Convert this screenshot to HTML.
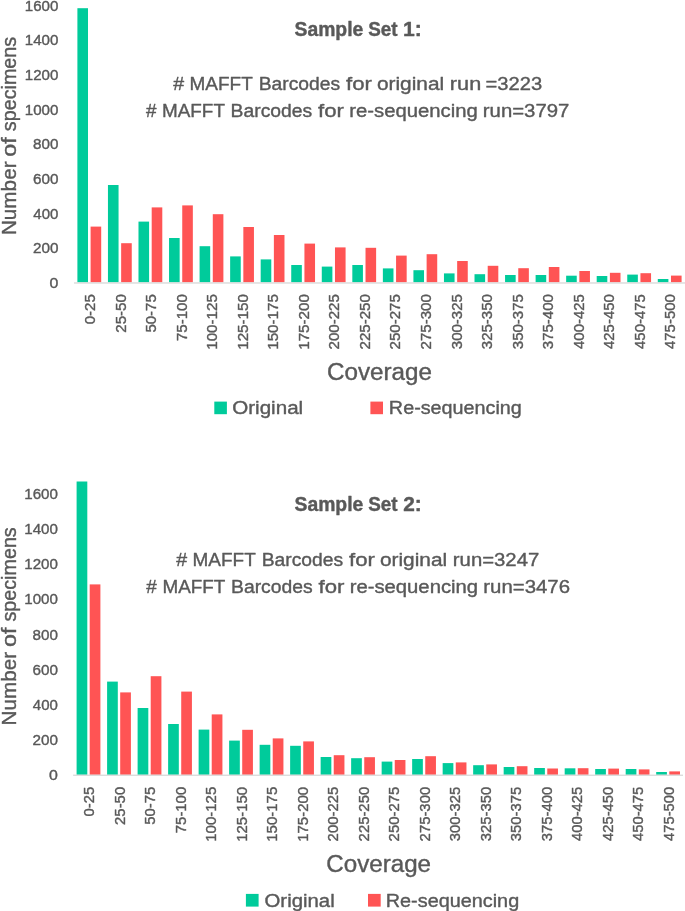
<!DOCTYPE html>
<html lang="en">
<head>
<meta charset="utf-8">
<title>Coverage histograms</title>
<style>
html,body{margin:0;padding:0;background:#fff;}
svg{display:block;}
text{font-family:'Liberation Sans', sans-serif;fill:#595959;font-kerning:none;stroke:#595959;stroke-width:0.4px;stroke-linejoin:round;}
</style>
</head>
<body>
<svg width="685" height="911" viewBox="0 0 685 911">
<rect x="0" y="0" width="685" height="911" fill="#ffffff"/>
<g id="chart1">
<g fill="#00CB9B">
<rect x="77.40" y="8.20" width="10.6" height="274.10"/>
<rect x="107.95" y="185.00" width="10.6" height="97.30"/>
<rect x="138.49" y="221.60" width="10.6" height="60.70"/>
<rect x="169.04" y="238.00" width="10.6" height="44.30"/>
<rect x="199.59" y="246.20" width="10.6" height="36.10"/>
<rect x="230.14" y="256.40" width="10.6" height="25.90"/>
<rect x="260.68" y="259.40" width="10.6" height="22.90"/>
<rect x="291.23" y="265.00" width="10.6" height="17.30"/>
<rect x="321.78" y="266.60" width="10.6" height="15.70"/>
<rect x="352.32" y="265.00" width="10.6" height="17.30"/>
<rect x="382.87" y="268.40" width="10.6" height="13.90"/>
<rect x="413.42" y="270.20" width="10.6" height="12.10"/>
<rect x="443.96" y="273.40" width="10.6" height="8.90"/>
<rect x="474.51" y="274.20" width="10.6" height="8.10"/>
<rect x="505.06" y="275.00" width="10.6" height="7.30"/>
<rect x="535.61" y="275.00" width="10.6" height="7.30"/>
<rect x="566.15" y="275.70" width="10.6" height="6.60"/>
<rect x="596.70" y="276.00" width="10.6" height="6.30"/>
<rect x="627.25" y="274.60" width="10.6" height="7.70"/>
<rect x="657.79" y="279.00" width="10.6" height="3.30"/>
</g>
<g fill="#FF5454">
<rect x="90.60" y="226.60" width="10.6" height="55.70"/>
<rect x="121.15" y="243.20" width="10.6" height="39.10"/>
<rect x="151.69" y="207.40" width="10.6" height="74.90"/>
<rect x="182.24" y="205.40" width="10.6" height="76.90"/>
<rect x="212.79" y="214.20" width="10.6" height="68.10"/>
<rect x="243.34" y="227.00" width="10.6" height="55.30"/>
<rect x="273.88" y="235.00" width="10.6" height="47.30"/>
<rect x="304.43" y="243.60" width="10.6" height="38.70"/>
<rect x="334.98" y="247.40" width="10.6" height="34.90"/>
<rect x="365.52" y="247.80" width="10.6" height="34.50"/>
<rect x="396.07" y="255.60" width="10.6" height="26.70"/>
<rect x="426.62" y="254.20" width="10.6" height="28.10"/>
<rect x="457.16" y="261.00" width="10.6" height="21.30"/>
<rect x="487.71" y="265.80" width="10.6" height="16.50"/>
<rect x="518.26" y="268.20" width="10.6" height="14.10"/>
<rect x="548.81" y="267.00" width="10.6" height="15.30"/>
<rect x="579.35" y="271.00" width="10.6" height="11.30"/>
<rect x="609.90" y="272.80" width="10.6" height="9.50"/>
<rect x="640.45" y="273.20" width="10.6" height="9.10"/>
<rect x="670.99" y="275.60" width="10.6" height="6.70"/>
</g>
<rect x="74.0" y="282.30" width="611.00" height="1.35" fill="#D9D9D9"/>
<g>
<text y="287.93" font-size="14.9"><tspan x="49.58" textLength="8.84" lengthAdjust="spacingAndGlyphs">0</tspan></text>
<text y="253.28" font-size="14.9"><tspan x="32.93" textLength="25.46" lengthAdjust="spacingAndGlyphs">200</tspan></text>
<text y="218.63" font-size="14.9"><tspan x="33.36" textLength="25.03" lengthAdjust="spacingAndGlyphs">400</tspan></text>
<text y="183.98" font-size="14.9"><tspan x="32.92" textLength="25.47" lengthAdjust="spacingAndGlyphs">600</tspan></text>
<text y="149.33" font-size="14.9"><tspan x="33.04" textLength="25.35" lengthAdjust="spacingAndGlyphs">800</tspan></text>
<text y="114.68" font-size="14.9"><tspan x="24.75" textLength="33.64" lengthAdjust="spacingAndGlyphs">1000</tspan></text>
<text y="80.03" font-size="14.9"><tspan x="24.75" textLength="33.64" lengthAdjust="spacingAndGlyphs">1200</tspan></text>
<text y="45.38" font-size="14.9"><tspan x="24.75" textLength="33.64" lengthAdjust="spacingAndGlyphs">1400</tspan></text>
<text y="10.73" font-size="14.9"><tspan x="24.75" textLength="33.64" lengthAdjust="spacingAndGlyphs">1600</tspan></text>
</g>
<text transform="translate(15.50,0) rotate(-90)" font-size="20.6"><tspan x="-235.10" textLength="73.64" lengthAdjust="spacingAndGlyphs">Number</tspan> <tspan x="-156.68" textLength="19.44" lengthAdjust="spacingAndGlyphs">of</tspan> <tspan x="-131.15" textLength="94.26" lengthAdjust="spacingAndGlyphs">specimens</tspan></text>
<text y="35.60" font-size="19.6" font-weight="bold" stroke="none"><tspan x="294.54" textLength="68.72" lengthAdjust="spacingAndGlyphs">Sample</tspan> <tspan x="368.16" textLength="29.37" lengthAdjust="spacingAndGlyphs">Set</tspan> <tspan x="403.07" textLength="18.76" lengthAdjust="spacingAndGlyphs">1:</tspan></text>
<text y="90.40" font-size="19.2"><tspan x="173.31" textLength="10.88" lengthAdjust="spacingAndGlyphs">#</tspan> <tspan x="189.54" textLength="63.19" lengthAdjust="spacingAndGlyphs">MAFFT</tspan> <tspan x="258.72" textLength="81.48" lengthAdjust="spacingAndGlyphs">Barcodes</tspan> <tspan x="345.99" textLength="25.88" lengthAdjust="spacingAndGlyphs">for</tspan> <tspan x="376.92" textLength="67.27" lengthAdjust="spacingAndGlyphs">original</tspan> <tspan x="449.86" textLength="31.35" lengthAdjust="spacingAndGlyphs">run</tspan> <tspan x="485.52" textLength="56.57" lengthAdjust="spacingAndGlyphs">=3223</tspan></text>
<text y="116.90" font-size="19.2"><tspan x="145.92" textLength="10.47" lengthAdjust="spacingAndGlyphs">#</tspan> <tspan x="162.05" textLength="62.88" lengthAdjust="spacingAndGlyphs">MAFFT</tspan> <tspan x="230.62" textLength="81.58" lengthAdjust="spacingAndGlyphs">Barcodes</tspan> <tspan x="318.09" textLength="25.88" lengthAdjust="spacingAndGlyphs">for</tspan> <tspan x="349.25" textLength="128.45" lengthAdjust="spacingAndGlyphs">re-sequencing</tspan> <tspan x="482.85" textLength="86.47" lengthAdjust="spacingAndGlyphs">run=3797</tspan></text>
<g>
<text transform="translate(95.00,0) rotate(-90)" font-size="15.4"><tspan x="-324.24" textLength="30.07" lengthAdjust="spacingAndGlyphs">0-25</tspan></text>
<text transform="translate(125.55,0) rotate(-90)" font-size="15.4"><tspan x="-332.73" textLength="38.52" lengthAdjust="spacingAndGlyphs">25-50</tspan></text>
<text transform="translate(156.09,0) rotate(-90)" font-size="15.4"><tspan x="-332.58" textLength="38.41" lengthAdjust="spacingAndGlyphs">50-75</tspan></text>
<text transform="translate(186.64,0) rotate(-90)" font-size="15.4"><tspan x="-341.07" textLength="46.86" lengthAdjust="spacingAndGlyphs">75-100</tspan></text>
<text transform="translate(217.19,0) rotate(-90)" font-size="15.4"><tspan x="-349.78" textLength="55.61" lengthAdjust="spacingAndGlyphs">100-125</tspan></text>
<text transform="translate(247.74,0) rotate(-90)" font-size="15.4"><tspan x="-349.78" textLength="55.57" lengthAdjust="spacingAndGlyphs">125-150</tspan></text>
<text transform="translate(278.28,0) rotate(-90)" font-size="15.4"><tspan x="-349.78" textLength="55.61" lengthAdjust="spacingAndGlyphs">150-175</tspan></text>
<text transform="translate(308.83,0) rotate(-90)" font-size="15.4"><tspan x="-349.78" textLength="55.57" lengthAdjust="spacingAndGlyphs">175-200</tspan></text>
<text transform="translate(339.38,0) rotate(-90)" font-size="15.4"><tspan x="-349.38" textLength="55.21" lengthAdjust="spacingAndGlyphs">200-225</tspan></text>
<text transform="translate(369.92,0) rotate(-90)" font-size="15.4"><tspan x="-349.38" textLength="55.17" lengthAdjust="spacingAndGlyphs">225-250</tspan></text>
<text transform="translate(400.47,0) rotate(-90)" font-size="15.4"><tspan x="-349.38" textLength="55.21" lengthAdjust="spacingAndGlyphs">250-275</tspan></text>
<text transform="translate(431.02,0) rotate(-90)" font-size="15.4"><tspan x="-349.38" textLength="55.17" lengthAdjust="spacingAndGlyphs">275-300</tspan></text>
<text transform="translate(461.56,0) rotate(-90)" font-size="15.4"><tspan x="-349.20" textLength="55.02" lengthAdjust="spacingAndGlyphs">300-325</tspan></text>
<text transform="translate(492.11,0) rotate(-90)" font-size="15.4"><tspan x="-349.19" textLength="54.98" lengthAdjust="spacingAndGlyphs">325-350</tspan></text>
<text transform="translate(522.66,0) rotate(-90)" font-size="15.4"><tspan x="-349.20" textLength="55.02" lengthAdjust="spacingAndGlyphs">350-375</tspan></text>
<text transform="translate(553.21,0) rotate(-90)" font-size="15.4"><tspan x="-349.19" textLength="54.98" lengthAdjust="spacingAndGlyphs">375-400</tspan></text>
<text transform="translate(583.75,0) rotate(-90)" font-size="15.4"><tspan x="-348.97" textLength="54.79" lengthAdjust="spacingAndGlyphs">400-425</tspan></text>
<text transform="translate(614.30,0) rotate(-90)" font-size="15.4"><tspan x="-348.97" textLength="54.75" lengthAdjust="spacingAndGlyphs">425-450</tspan></text>
<text transform="translate(644.85,0) rotate(-90)" font-size="15.4"><tspan x="-348.97" textLength="54.79" lengthAdjust="spacingAndGlyphs">450-475</tspan></text>
<text transform="translate(675.39,0) rotate(-90)" font-size="15.4"><tspan x="-348.97" textLength="54.75" lengthAdjust="spacingAndGlyphs">475-500</tspan></text>
</g>
<text y="379.80" font-size="23.1"><tspan x="326.97" textLength="104.90" lengthAdjust="spacingAndGlyphs">Coverage</tspan></text>
<rect x="214.3" y="401.6" width="12.6" height="12.6" fill="#00CB9B"/>
<rect x="370.4" y="401.6" width="12.6" height="12.6" fill="#FF5454"/>
<text y="414.30" font-size="19.2"><tspan x="232.22" textLength="70.95" lengthAdjust="spacingAndGlyphs">Original</tspan></text>
<text y="414.30" font-size="19.2"><tspan x="388.88" textLength="133.00" lengthAdjust="spacingAndGlyphs">Re-sequencing</tspan></text>
</g>
<g id="chart2">
<g fill="#00CB9B">
<rect x="76.60" y="481.50" width="10.7" height="293.30"/>
<rect x="107.10" y="681.60" width="10.7" height="93.20"/>
<rect x="137.61" y="708.00" width="10.7" height="66.80"/>
<rect x="168.12" y="724.00" width="10.7" height="50.80"/>
<rect x="198.62" y="729.60" width="10.7" height="45.20"/>
<rect x="229.12" y="740.60" width="10.7" height="34.20"/>
<rect x="259.63" y="744.80" width="10.7" height="30.00"/>
<rect x="290.13" y="745.80" width="10.7" height="29.00"/>
<rect x="320.64" y="757.00" width="10.7" height="17.80"/>
<rect x="351.14" y="758.20" width="10.7" height="16.60"/>
<rect x="381.65" y="761.60" width="10.7" height="13.20"/>
<rect x="412.15" y="759.00" width="10.7" height="15.80"/>
<rect x="442.66" y="763.10" width="10.7" height="11.70"/>
<rect x="473.16" y="765.20" width="10.7" height="9.60"/>
<rect x="503.67" y="767.00" width="10.7" height="7.80"/>
<rect x="534.17" y="768.00" width="10.7" height="6.80"/>
<rect x="564.68" y="768.30" width="10.7" height="6.50"/>
<rect x="595.19" y="769.00" width="10.7" height="5.80"/>
<rect x="625.69" y="769.00" width="10.7" height="5.80"/>
<rect x="656.20" y="772.00" width="10.7" height="2.80"/>
</g>
<g fill="#FF5454">
<rect x="89.70" y="584.40" width="10.7" height="190.40"/>
<rect x="120.20" y="692.40" width="10.7" height="82.40"/>
<rect x="150.71" y="676.20" width="10.7" height="98.60"/>
<rect x="181.22" y="691.60" width="10.7" height="83.20"/>
<rect x="211.72" y="714.40" width="10.7" height="60.40"/>
<rect x="242.22" y="729.80" width="10.7" height="45.00"/>
<rect x="272.73" y="738.40" width="10.7" height="36.40"/>
<rect x="303.24" y="741.40" width="10.7" height="33.40"/>
<rect x="333.74" y="755.20" width="10.7" height="19.60"/>
<rect x="364.25" y="757.20" width="10.7" height="17.60"/>
<rect x="394.75" y="760.00" width="10.7" height="14.80"/>
<rect x="425.25" y="756.20" width="10.7" height="18.60"/>
<rect x="455.76" y="762.40" width="10.7" height="12.40"/>
<rect x="486.26" y="764.40" width="10.7" height="10.40"/>
<rect x="516.77" y="766.20" width="10.7" height="8.60"/>
<rect x="547.27" y="768.50" width="10.7" height="6.30"/>
<rect x="577.78" y="768.20" width="10.7" height="6.60"/>
<rect x="608.29" y="768.60" width="10.7" height="6.20"/>
<rect x="638.79" y="769.40" width="10.7" height="5.40"/>
<rect x="669.30" y="771.40" width="10.7" height="3.40"/>
</g>
<rect x="73.1" y="774.60" width="609.90" height="1.3" fill="#D9D9D9"/>
<g>
<text y="779.93" font-size="15.3"><tspan x="49.08" textLength="8.84" lengthAdjust="spacingAndGlyphs">0</tspan></text>
<text y="744.83" font-size="15.3"><tspan x="32.43" textLength="25.46" lengthAdjust="spacingAndGlyphs">200</tspan></text>
<text y="709.73" font-size="15.3"><tspan x="32.86" textLength="25.03" lengthAdjust="spacingAndGlyphs">400</tspan></text>
<text y="674.63" font-size="15.3"><tspan x="32.42" textLength="25.47" lengthAdjust="spacingAndGlyphs">600</tspan></text>
<text y="639.53" font-size="15.3"><tspan x="32.54" textLength="25.35" lengthAdjust="spacingAndGlyphs">800</tspan></text>
<text y="604.43" font-size="15.3"><tspan x="24.25" textLength="33.64" lengthAdjust="spacingAndGlyphs">1000</tspan></text>
<text y="569.33" font-size="15.3"><tspan x="24.25" textLength="33.64" lengthAdjust="spacingAndGlyphs">1200</tspan></text>
<text y="534.23" font-size="15.3"><tspan x="24.25" textLength="33.64" lengthAdjust="spacingAndGlyphs">1400</tspan></text>
<text y="499.13" font-size="15.3"><tspan x="24.25" textLength="33.64" lengthAdjust="spacingAndGlyphs">1600</tspan></text>
</g>
<text transform="translate(15.50,0) rotate(-90)" font-size="20.6"><tspan x="-725.50" textLength="73.64" lengthAdjust="spacingAndGlyphs">Number</tspan> <tspan x="-647.08" textLength="19.44" lengthAdjust="spacingAndGlyphs">of</tspan> <tspan x="-621.55" textLength="94.26" lengthAdjust="spacingAndGlyphs">specimens</tspan></text>
<text y="511.40" font-size="19.6" font-weight="bold" stroke="none"><tspan x="294.54" textLength="68.72" lengthAdjust="spacingAndGlyphs">Sample</tspan> <tspan x="368.16" textLength="29.37" lengthAdjust="spacingAndGlyphs">Set</tspan> <tspan x="403.28" textLength="18.53" lengthAdjust="spacingAndGlyphs">2:</tspan></text>
<text y="565.75" font-size="19.2"><tspan x="176.31" textLength="10.88" lengthAdjust="spacingAndGlyphs">#</tspan> <tspan x="192.54" textLength="63.19" lengthAdjust="spacingAndGlyphs">MAFFT</tspan> <tspan x="261.72" textLength="81.48" lengthAdjust="spacingAndGlyphs">Barcodes</tspan> <tspan x="348.99" textLength="25.88" lengthAdjust="spacingAndGlyphs">for</tspan> <tspan x="379.92" textLength="67.27" lengthAdjust="spacingAndGlyphs">original</tspan> <tspan x="452.85" textLength="86.37" lengthAdjust="spacingAndGlyphs">run=3247</tspan></text>
<text y="592.60" font-size="19.2"><tspan x="146.32" textLength="10.47" lengthAdjust="spacingAndGlyphs">#</tspan> <tspan x="162.45" textLength="62.88" lengthAdjust="spacingAndGlyphs">MAFFT</tspan> <tspan x="231.02" textLength="81.58" lengthAdjust="spacingAndGlyphs">Barcodes</tspan> <tspan x="318.49" textLength="25.88" lengthAdjust="spacingAndGlyphs">for</tspan> <tspan x="349.65" textLength="128.45" lengthAdjust="spacingAndGlyphs">re-sequencing</tspan> <tspan x="483.25" textLength="86.75" lengthAdjust="spacingAndGlyphs">run=3476</tspan></text>
<g>
<text transform="translate(94.20,0) rotate(-90)" font-size="15.4"><tspan x="-816.52" textLength="29.74" lengthAdjust="spacingAndGlyphs">0-25</tspan></text>
<text transform="translate(124.70,0) rotate(-90)" font-size="15.4"><tspan x="-824.93" textLength="38.11" lengthAdjust="spacingAndGlyphs">25-50</tspan></text>
<text transform="translate(155.21,0) rotate(-90)" font-size="15.4"><tspan x="-824.77" textLength="38.00" lengthAdjust="spacingAndGlyphs">50-75</tspan></text>
<text transform="translate(185.72,0) rotate(-90)" font-size="15.4"><tspan x="-833.18" textLength="46.36" lengthAdjust="spacingAndGlyphs">75-100</tspan></text>
<text transform="translate(216.22,0) rotate(-90)" font-size="15.4"><tspan x="-841.80" textLength="55.03" lengthAdjust="spacingAndGlyphs">100-125</tspan></text>
<text transform="translate(246.72,0) rotate(-90)" font-size="15.4"><tspan x="-841.80" textLength="54.98" lengthAdjust="spacingAndGlyphs">125-150</tspan></text>
<text transform="translate(277.23,0) rotate(-90)" font-size="15.4"><tspan x="-841.80" textLength="55.03" lengthAdjust="spacingAndGlyphs">150-175</tspan></text>
<text transform="translate(307.73,0) rotate(-90)" font-size="15.4"><tspan x="-841.80" textLength="54.98" lengthAdjust="spacingAndGlyphs">175-200</tspan></text>
<text transform="translate(338.24,0) rotate(-90)" font-size="15.4"><tspan x="-841.40" textLength="54.63" lengthAdjust="spacingAndGlyphs">200-225</tspan></text>
<text transform="translate(368.74,0) rotate(-90)" font-size="15.4"><tspan x="-841.40" textLength="54.58" lengthAdjust="spacingAndGlyphs">225-250</tspan></text>
<text transform="translate(399.25,0) rotate(-90)" font-size="15.4"><tspan x="-841.40" textLength="54.63" lengthAdjust="spacingAndGlyphs">250-275</tspan></text>
<text transform="translate(429.75,0) rotate(-90)" font-size="15.4"><tspan x="-841.40" textLength="54.58" lengthAdjust="spacingAndGlyphs">275-300</tspan></text>
<text transform="translate(460.26,0) rotate(-90)" font-size="15.4"><tspan x="-841.22" textLength="54.44" lengthAdjust="spacingAndGlyphs">300-325</tspan></text>
<text transform="translate(490.76,0) rotate(-90)" font-size="15.4"><tspan x="-841.22" textLength="54.40" lengthAdjust="spacingAndGlyphs">325-350</tspan></text>
<text transform="translate(521.27,0) rotate(-90)" font-size="15.4"><tspan x="-841.22" textLength="54.44" lengthAdjust="spacingAndGlyphs">350-375</tspan></text>
<text transform="translate(551.77,0) rotate(-90)" font-size="15.4"><tspan x="-841.22" textLength="54.40" lengthAdjust="spacingAndGlyphs">375-400</tspan></text>
<text transform="translate(582.28,0) rotate(-90)" font-size="15.4"><tspan x="-840.99" textLength="54.21" lengthAdjust="spacingAndGlyphs">400-425</tspan></text>
<text transform="translate(612.79,0) rotate(-90)" font-size="15.4"><tspan x="-840.99" textLength="54.17" lengthAdjust="spacingAndGlyphs">425-450</tspan></text>
<text transform="translate(643.29,0) rotate(-90)" font-size="15.4"><tspan x="-840.99" textLength="54.21" lengthAdjust="spacingAndGlyphs">450-475</tspan></text>
<text transform="translate(673.80,0) rotate(-90)" font-size="15.4"><tspan x="-840.99" textLength="54.17" lengthAdjust="spacingAndGlyphs">475-500</tspan></text>
</g>
<text y="872.30" font-size="23.1"><tspan x="326.37" textLength="104.70" lengthAdjust="spacingAndGlyphs">Coverage</tspan></text>
<rect x="245.9" y="893.9" width="12.7" height="12.7" fill="#00CB9B"/>
<rect x="368.0" y="893.9" width="12.7" height="12.7" fill="#FF5454"/>
<text y="906.50" font-size="19.2"><tspan x="264.54" textLength="70.13" lengthAdjust="spacingAndGlyphs">Original</tspan></text>
<text y="906.50" font-size="19.2"><tspan x="385.77" textLength="133.41" lengthAdjust="spacingAndGlyphs">Re-sequencing</tspan></text>
</g>
</svg>
</body>
</html>
